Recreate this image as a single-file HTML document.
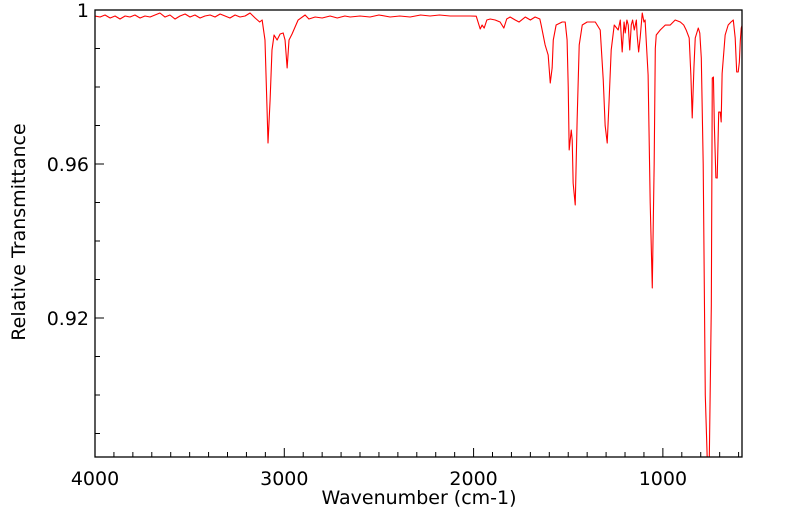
<!DOCTYPE html>
<html><head><meta charset="utf-8"><style>
html,body{margin:0;padding:0;background:#fff;overflow:hidden;width:799px;height:516px;}
svg{display:block;font-family:"DejaVu Sans","Liberation Sans",sans-serif;}
</style></head><body>
<svg id="chart" width="799" height="516" viewBox="0 0 799 516" xmlns="http://www.w3.org/2000/svg">
<defs><clipPath id="clip"><rect x="95" y="10" width="647" height="447"/></clipPath></defs>
<g id="axes"></g>
<g id="series" clip-path="url(#clip)"></g>
<rect x="95" y="10" width="647" height="447" fill="none" stroke="#000" stroke-width="1.3"/>
<text x="419" y="504" font-size="19" text-anchor="middle">Wavenumber (cm-1)</text>
<text x="0" y="0" font-size="19" text-anchor="middle" transform="translate(25,232) rotate(-90)">Relative Transmittance</text>
</svg>
<script>
const wavenumbers = [4000,3973,3947,3920,3894,3868,3841,3815,3789,3762,3736,3709,3683,3657,3630,3604,3577,3551,3524,3498,3472,3445,3419,3392,3366,3339,3313,3287,3260,3234,3207,3181,3154,3130,3117,3102,3091,3086,3075,3065,3054,3038,3022,3006,2996,2990,2985,2975,2959,2927,2890,2870,2837,2800,2758,2720,2680,2652,2600,2547,2500,2441,2390,2335,2280,2230,2180,2124,2070,2018,1986,1965,1955,1944,1930,1912,1886,1860,1840,1825,1807,1780,1760,1727,1700,1675,1650,1643,1622,1606,1595,1585,1579,1564,1532,1516,1506,1500,1495,1484,1479,1474,1463,1453,1442,1426,1400,1357,1331,1315,1305,1294,1284,1273,1257,1236,1225,1215,1205,1199,1190,1183,1175,1167,1160,1151,1140,1136,1128,1120,1109,1100,1094,1078,1067,1056,1046,1040,1035,1014,987,961,935,908,890,877,861,852,845,836,829,813,805,797,787,776,765,760,755,744,739,733,728,720,713,705,697,692,687,671,655,640,628,618,610,602,596,591,586,581];
const transmittance = [.99844,.99818,.9987,.99792,.99844,.99766,.99844,.99818,.9987,.99792,.99844,.99818,.9987,.99922,.99818,.9987,.99766,.99844,.99896,.99818,.9987,.99792,.99844,.9987,.99818,.99896,.99844,.99792,.9987,.99818,.99844,.99922,.99792,.99688,.9974,.99221,.97403,.96545,.97662,.98961,.99351,.99221,.99377,.99403,.99221,.98831,.98494,.99221,.99377,.9974,.9987,.99766,.99818,.99792,.99844,.99792,.99844,.99818,.99844,.99818,.9987,.99818,.99844,.99818,.9987,.99844,.9987,.99844,.99844,.99844,.9984,.99506,.9961,.99532,.9974,.99766,.9974,.99688,.99532,.99766,.99818,.9974,.99688,.99818,.9974,.99818,.99766,.9961,.99091,.98831,.98104,.98494,.99221,.9961,.99688,.99688,.99221,.98,.96364,.96883,.96623,.955,.94935,.97143,.99091,.9961,.99688,.99688,.99481,.98182,.97,.96545,.97662,.98961,.9961,.99481,.9974,.98909,.99688,.99403,.9974,.9961,.98961,.9961,.9974,.99481,.9974,.99351,.98909,.99273,.99922,.99688,.9974,.98312,.95,.92779,.96,.99,.9935,.99481,.9961,.9961,.9974,.99688,.9961,.99481,.99273,.983,.97195,.985,.99273,.99532,.99403,.98753,.96,.9,.875,.86,.875,.92338,.98234,.9826,.97,.9564,.95636,.9735,.97351,.97091,.9835,.99351,.9961,.99688,.9974,.99273,.9839,.9839,.98649,.992,.99532,.9961];
const xTickValues = [4000,3000,2000,1000];
const xTickLabels = ["4000","3000","2000","1000"];
const yTickValues = [1,0.96,0.92];
const yTickLabels = ["1","0.96","0.92"];

const X0=95,X1=742,Y0=10,Y1=457;
const WN_MAX=4000,WN_MIN=582,T_MAX=1,T_MIN=1-447/3850;
function xs(w){return X0+(WN_MAX-w)/(WN_MAX-WN_MIN)*(X1-X0);}
function ys(t){return Y0+(T_MAX-t)/(T_MAX-T_MIN)*(Y1-Y0);}
function ysClamped(t){return Math.min(ys(t), Y1+6);}
const NS="http://www.w3.org/2000/svg";
const axes=document.getElementById('axes');
function mk(tag,attrs,parent){const e=document.createElementNS(NS,tag);for(const k in attrs)e.setAttribute(k,attrs[k]);parent.appendChild(e);return e;}
for(let w=4000;w>=WN_MIN;w-=100){
  const major=w%1000===0;const x=xs(w);
  const t=mk('line',{x1:x,x2:x,y1:Y1,y2:Y1-(major?9:5),stroke:'#000','stroke-width':1},axes);
  
  
}
xTickValues.forEach((v,i)=>{
  const t=mk('text',{x:xs(v),y:485,'font-size':19,'text-anchor':'middle'},axes);
  t.textContent=xTickLabels[i];
  
  
});
for(let k=0;k<=11;k++){
  const v=1-k*0.01;const y=ys(v);if(y>Y1)break;
  const major=(k%4===0);
  const t=mk('line',{x1:X0,x2:X0+(major?9:5),y1:y,y2:y,stroke:'#000','stroke-width':1},axes);
  
  
}
yTickValues.forEach((v,i)=>{
  const t=mk('text',{x:89,y:ys(v)+7,'font-size':19,'text-anchor':'end'},axes);
  t.textContent=yTickLabels[i];
  
  
});
const pts=wavenumbers.map((w,i)=>xs(w).toFixed(2)+','+ysClamped(transmittance[i]).toFixed(2)).join(' ');
const line=mk('polyline',{points:pts,fill:'none',stroke:'#ff0000','stroke-width':1.1,'stroke-linejoin':'round'},document.getElementById('series'));


</script>
</body></html>
